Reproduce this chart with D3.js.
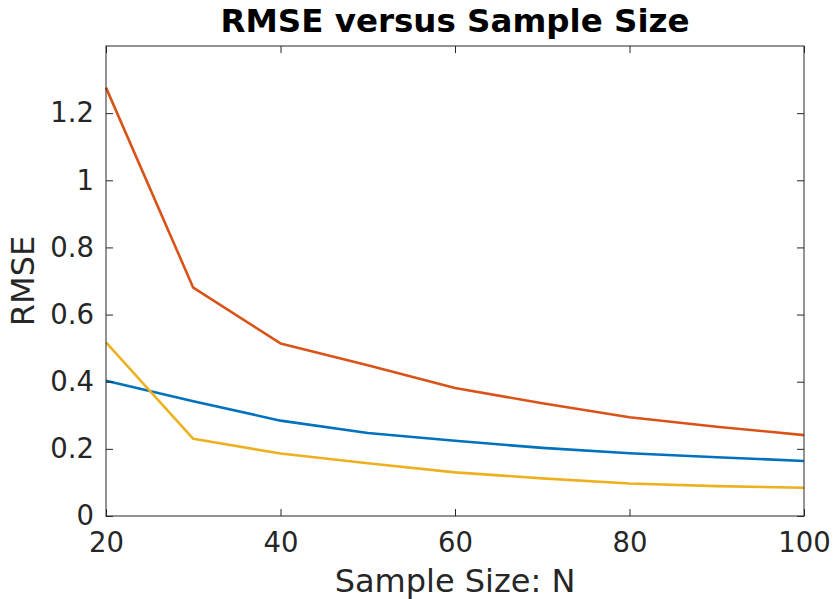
<!DOCTYPE html>
<html>
<head>
<meta charset="utf-8">
<script src="https://cdn.jsdelivr.net/npm/d3@7"></script>
<style>
  body { margin: 0; background: #fff; }
  svg { display: block; font-family: "DejaVu Sans", sans-serif; }
</style>
</head>
<body>
<div id="chart"></div>
<script>
// sample sizes on the x axis
const sampleSizes = [20, 30, 40, 50, 60, 70, 80, 90, 100];

// RMSE for each curve
const blueSeries = [0.403, 0.342, 0.284, 0.247, 0.224, 0.203, 0.187, 0.175, 0.164];
const redSeries = [1.276, 0.680, 0.514, 0.449, 0.381, 0.336, 0.294, 0.266, 0.241];
const yellowSeries = [0.517, 0.230, 0.186, 0.157, 0.130, 0.112, 0.097, 0.089, 0.084];

const xTicks = [20, 40, 60, 80, 100];
const yTicks = [0, 0.2, 0.4, 0.6, 0.8, 1, 1.2];

const series = [
    { name: "blue", values: blueSeries, color: "#0072BD" },
    { name: "red", values: redSeries, color: "#D95319" },
    { name: "yellow", values: yellowSeries, color: "#EDB120" }
];

const W = 834, H = 599;
const margin = { top: 46, right: 30, bottom: 83, left: 106 };
const width = W - margin.left - margin.right;
const height = H - margin.top - margin.bottom;

const svg = d3.select("#chart").append("svg")
    .attr("width", W)
    .attr("height", H);

const g = svg.append("g")
    .attr("transform", `translate(${margin.left},${margin.top})`);

const x = d3.scaleLinear().domain([20, 100]).range([0, width]);
const y = d3.scaleLinear().domain([0, 1.4]).range([height, 0]);

const axisColor = "#262626";
const tickLen = 7;

// lines first, box on top like matlab
const line = d3.line()
    .x((d, i) => x(sampleSizes[i]))
    .y(d => y(d));

g.selectAll(".series")
    .data(series)
    .join("path")
    .attr("class", "series")
    .attr("fill", "none")
    .attr("stroke", d => d.color)
    .attr("stroke-width", 2.6)
    .attr("stroke-linejoin", "round")
    .attr("d", d => line(d.values));

// bottom axis: ticks point inward
g.append("g")
    .attr("transform", `translate(0,${height})`)
    .call(d3.axisBottom(x).tickValues(xTicks).tickSize(-tickLen).tickPadding(16).tickSizeOuter(0));

g.append("g")
    .call(d3.axisLeft(y).tickValues(yTicks).tickSize(-tickLen).tickPadding(12).tickSizeOuter(0)
        .tickFormat(d3.format("~g")));

// top + right ticks without labels
g.append("g")
    .call(d3.axisTop(x).tickValues(xTicks).tickSize(-tickLen).tickFormat("").tickSizeOuter(0));
g.append("g")
    .attr("transform", `translate(${width},0)`)
    .call(d3.axisRight(y).tickValues(yTicks).tickSize(-tickLen).tickFormat("").tickSizeOuter(0));

svg.selectAll(".domain").remove();
svg.selectAll(".tick line").attr("stroke", axisColor).attr("stroke-width", 1);
svg.selectAll(".tick text")
    .attr("fill", axisColor)
    .style("font-size", "27.5px")
    .style("font-family", "DejaVu Sans, sans-serif");

// box
g.append("rect")
    .attr("width", width)
    .attr("height", height)
    .attr("fill", "none")
    .attr("stroke", axisColor)
    .attr("stroke-width", 1);

// title
svg.append("text")
    .attr("x", margin.left + width / 2)
    .attr("y", 32)
    .attr("text-anchor", "middle")
    .style("font-size", "32.5px")
    .style("font-weight", "bold")
    .attr("fill", "#000")
    .text("RMSE versus Sample Size");

// axis labels
svg.append("text")
    .attr("x", margin.left + width / 2)
    .attr("y", 592)
    .attr("text-anchor", "middle")
    .style("font-size", "32px")
    .attr("fill", axisColor)
    .text("Sample Size: N");

svg.append("text")
    .attr("transform", `translate(34,${margin.top + height / 2}) rotate(-90)`)
    .attr("text-anchor", "middle")
    .style("font-size", "32px")
    .attr("fill", axisColor)
    .text("RMSE");
</script>
</body>
</html>
